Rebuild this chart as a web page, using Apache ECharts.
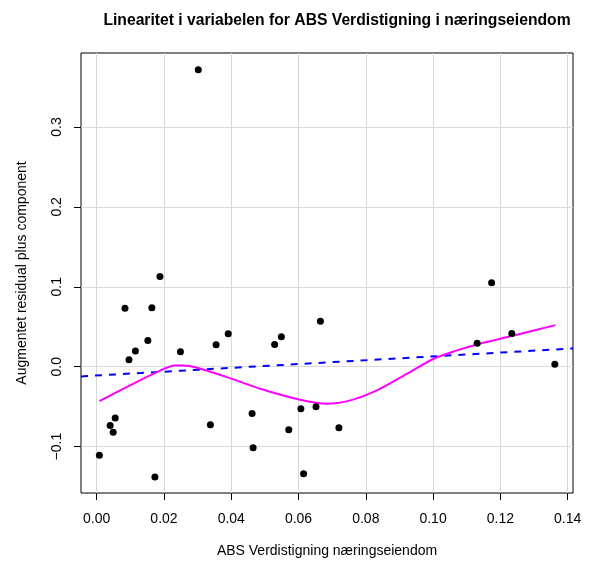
<!DOCTYPE html>
<html>
<head>
<meta charset="utf-8">
<script src="https://cdn.jsdelivr.net/npm/echarts@6/dist/echarts.min.js"></script>
<style>html,body{margin:0;padding:0;background:#fff;}#c{width:590px;height:565px;}</style>
</head>
<body>
<div id="c"></div>
<script>
// Observed points (x = ABS Verdistigning næringseiendom, y = component + residual)
const pointX = [0.0008, 0.0040, 0.0049, 0.0055, 0.0084, 0.0096, 0.0115, 0.0152, 0.0164, 0.0173,
                0.0188, 0.0249, 0.0302, 0.0338, 0.0355, 0.0391, 0.0462, 0.0465, 0.0529, 0.0549,
                0.0571, 0.0607, 0.0615, 0.0652, 0.0665, 0.0720, 0.1131, 0.1174, 0.1234, 0.1362];
const pointY = [-0.1109, -0.0734, -0.0821, -0.0642, 0.0733, 0.0087, 0.0196, 0.0329, 0.0737, -0.1380,
                0.1129, 0.0187, 0.3716, -0.0725, 0.0275, 0.0412, -0.0584, -0.1013, 0.0279, 0.0375,
                -0.0788, -0.0525, -0.1338, -0.0500, 0.0570, -0.0763, 0.0295, 0.1050, 0.0416, 0.0032];

// Linear fit (dashed blue)
const fitIntercept = -0.0110;
const fitSlope = 0.239;

// Smooth (magenta)
const smoothX = [0.0008, 0.0099, 0.0179, 0.0233, 0.0258, 0.0298, 0.0387, 0.0486, 0.0605, 0.0685,
                 0.0754, 0.0833, 0.0923, 0.1002, 0.1071, 0.1131, 0.1240, 0.1364];
const smoothY = [-0.0430, -0.0234, -0.0067, 0.0016, 0.0016, -0.0013, -0.0130, -0.0275, -0.0413, -0.0463,
                 -0.0421, -0.0296, -0.0088, 0.0100, 0.0204, 0.0279, 0.0391, 0.0520];

// Axes
const xTicks = [0, 0.02, 0.04, 0.06, 0.08, 0.10, 0.12, 0.14];
const yTicks = [-0.1, 0, 0.1, 0.2, 0.3];
const xMin = -0.00467, xMax = 0.1416;
const yMin = -0.158, yMax = 0.3925;

const chart = echarts.init(document.getElementById('c'), null, {renderer: 'canvas'});
const font = 'Liberation Sans, Helvetica, Arial, sans-serif';

const pts = pointX.map((x, i) => [x, pointY[i]]);
const smooth = smoothX.map((x, i) => [x, smoothY[i]]);
const fit = [xMin, xMax].map(x => [x, fitIntercept + fitSlope * x]);

chart.setOption({
  animation: false,
  backgroundColor: '#fff',
  title: {
    text: 'Linearitet i variabelen for ABS Verdistigning i næringseiendom',
    left: 332, top: 8, textAlign: 'center',
    textStyle: {fontFamily: font, fontSize: 15.7, fontWeight: 'bold', color: '#000'}
  },
  grid: {left: 81, top: 53, right: 17, bottom: 72, show: true, borderColor: '#000', borderWidth: 1, backgroundColor: 'transparent'},
  xAxis: {
    type: 'value', min: xMin, max: xMax,
    name: 'ABS Verdistigning næringseiendom', nameLocation: 'middle', nameGap: 51,
    nameTextStyle: {fontFamily: font, fontSize: 14, color: '#000'},
    axisLine: {show: false, onZero: false},
    axisTick: {show: true, length: 7, inside: false, customValues: xTicks, lineStyle: {color: '#000'}},
    axisLabel: {customValues: xTicks, margin: 19, fontFamily: font, fontSize: 14, color: '#000',
      formatter: v => v.toFixed(2)},
    splitLine: {show: true, lineStyle: {color: '#d9d9d9', width: 1}}
  },
  yAxis: {
    type: 'value', min: yMin, max: yMax,
    name: 'Augmentet residual plus component', nameLocation: 'middle', nameGap: 52,
    nameTextStyle: {fontFamily: font, fontSize: 14, color: '#000'},
    axisLine: {show: false, onZero: false},
    axisTick: {show: true, length: 7, inside: false, customValues: yTicks, lineStyle: {color: '#000'}},
    axisLabel: {customValues: yTicks, margin: 17, rotate: 90, fontFamily: font, fontSize: 14, color: '#000',
      formatter: v => (v < 0 ? '\u2212' : '') + Math.abs(v).toFixed(1)},
    splitLine: {show: true, lineStyle: {color: '#d9d9d9', width: 1}}
  },
  series: [
    {type: 'line', data: fit, showSymbol: false, symbol: 'none', z: 3,
      lineStyle: {color: '#0000ff', width: 2, type: [7, 7]}},
    {type: 'line', data: smooth, showSymbol: false, symbol: 'none', smooth: 0.3, z: 4,
      lineStyle: {color: '#ff00ff', width: 2}},
    {type: 'scatter', data: pts, symbol: 'circle', symbolSize: 7, z: 5,
      itemStyle: {color: '#000', opacity: 1}}
  ]
});
</script>
</body>
</html>
